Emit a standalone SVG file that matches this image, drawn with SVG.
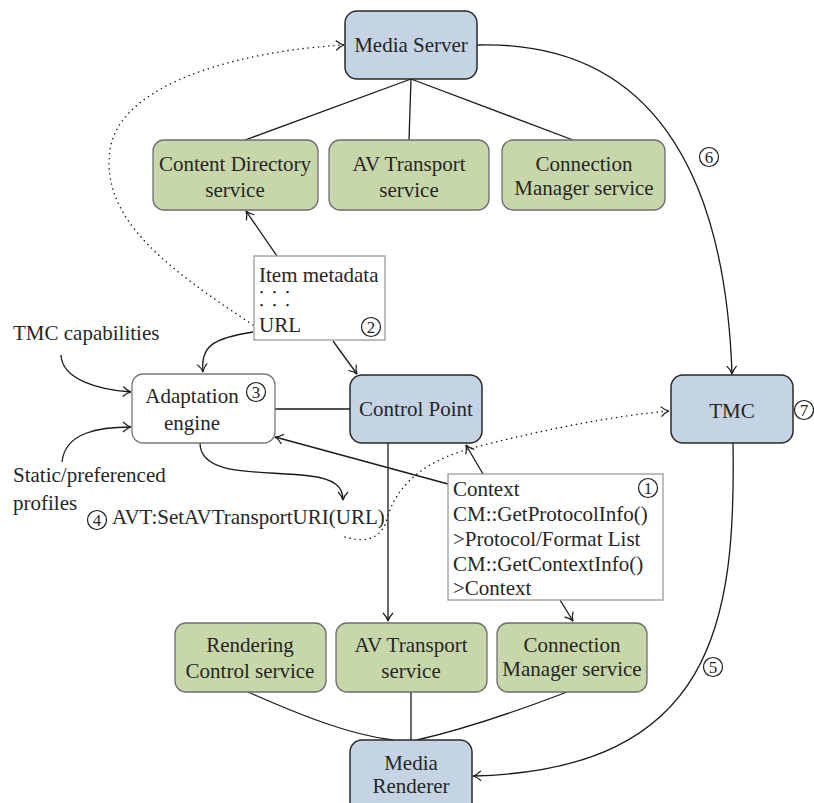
<svg xmlns="http://www.w3.org/2000/svg" width="814" height="803" viewBox="0 0 814 803">
<defs>
<style>
text{font-family:"Liberation Serif","Times New Roman",serif;font-size:21px;fill:#262626}
.c{text-anchor:middle}
.blue{fill:#c5d4e4;stroke:#2a2a2a;stroke-width:1.5}
.green{fill:#c8d7a9;stroke:#6e6e6e;stroke-width:1.3}
.note{fill:#fff;stroke:#9a9a9a;stroke-width:1.3}
.ae{fill:#fff;stroke:#7a7a7a;stroke-width:1.3}
.ln{fill:none;stroke:#1a1a1a;stroke-width:1.3}
.ar{marker-end:url(#arr)}
.dot{fill:none;stroke:#1a1a1a;stroke-width:1.5;stroke-dasharray:0.1 5;stroke-linecap:round}
.num{fill:none;stroke:#1a1a1a;stroke-width:1.2}
.nt{font-size:17px;text-anchor:middle}
.dots{font-size:8.5px;font-weight:bold;fill:#111}
</style>
<marker id="arr" viewBox="0 0 10 12" refX="9" refY="6" markerWidth="10" markerHeight="12" markerUnits="userSpaceOnUse" orient="auto">
<path d="M1,1 Q5,5 9,6 Q5,7 1,11" fill="none" stroke="#1a1a1a" stroke-width="1.2"/>
</marker>
</defs>

<g id="connectors">
<line class="ln" x1="411" y1="79" x2="245" y2="140"/>
<line class="ln" x1="411" y1="79" x2="409" y2="140"/>
<line class="ln" x1="411" y1="79" x2="573" y2="140"/>
<path class="ln ar" d="M477,45 C650,40 725,170 732,374"/>
<path class="ln ar" d="M277,256 L246,211"/>
<path class="ln ar" d="M333,341 L357,374"/>
<path class="ln ar" d="M253,332 C215,338 200,345 203,372"/>
<path class="ln ar" d="M61,355 C62,380 100,390 131,392"/>
<path class="ln ar" d="M62,462 C65,432 100,427 131,427"/>
<path class="ln ar" d="M200,443 C200,478 265,470 310,476 C335,479 343,487 343,500"/>
<line class="ln" x1="275" y1="409" x2="350" y2="409"/>
<path class="ln ar" d="M448,484 L275,437"/>
<path class="ln ar" d="M483,474 L466,445"/>
<path class="ln ar" d="M388,443 L388,621"/>
<path class="ln ar" d="M560,600 L573,621"/>
<path class="ln" d="M248,692 C300,715 350,735 393,740"/>
<line class="ln" x1="411" y1="692" x2="411" y2="740"/>
<path class="ln" d="M567,692 C520,710 460,730 417,740"/>
<path class="ln ar" d="M733,443 C736,620 715,770 473,776"/>
<path class="dot ar" d="M253,325 C170,270 100,220 110,150 C120,80 250,50 344,45"/>
<path class="dot ar" d="M345,537 C365,543 383,540 388,515 C400,480 430,458 480,446 C550,428 620,415 669,411"/>
</g>

<g id="media-server">
<rect class="blue" x="345" y="11" width="132" height="68" rx="12"/>
<text class="c" x="411" y="52">Media Server</text>
</g>
<g id="content-directory">
<rect class="green" x="153" y="140" width="165" height="70" rx="11"/>
<text class="c" x="235" y="171">Content Directory</text>
<text class="c" x="235" y="197">service</text>
</g>
<g id="av-transport-top">
<rect class="green" x="329" y="140" width="160" height="70" rx="11"/>
<text class="c" x="409" y="171">AV Transport</text>
<text class="c" x="409" y="197">service</text>
</g>
<g id="connection-manager-top">
<rect class="green" x="502" y="140" width="163" height="70" rx="11"/>
<text class="c" x="584" y="171">Connection</text>
<text class="c" x="584" y="195">Manager service</text>
</g>

<g id="item-metadata">
<rect class="note" x="254" y="256" width="131" height="84"/>
<text x="259" y="282">Item metadata</text>
<text class="dots" x="260 273 286" y="295">•••</text>
<text class="dots" x="260 273 286" y="308">•••</text>
<text x="259" y="332">URL</text>
<circle class="num" cx="371" cy="327" r="9.5"/>
<text class="nt" x="371" y="333">2</text>
</g>

<g id="tmc-capabilities">
<text x="13" y="340">TMC capabilities</text>
</g>
<g id="static-profiles">
<text x="13" y="482">Static/preferenced</text>
<text x="13" y="510">profiles</text>
</g>

<g id="adaptation-engine">
<rect class="ae" x="132" y="374" width="143" height="69" rx="11"/>
<text class="c" x="192" y="403">Adaptation</text>
<text class="c" x="192" y="430">engine</text>
<circle class="num" cx="256" cy="392" r="9.5"/>
<text class="nt" x="256" y="398">3</text>
</g>

<g id="control-point">
<rect class="blue" x="350" y="375" width="132" height="68" rx="12"/>
<text class="c" x="416" y="416">Control Point</text>
</g>

<g id="tmc">
<rect class="blue" x="671" y="375" width="122" height="68" rx="12"/>
<text class="c" x="732" y="418">TMC</text>
<circle class="num" cx="804" cy="410" r="9.5"/>
<text class="nt" x="804" y="416">7</text>
</g>

<g id="avt-call">
<circle class="num" cx="97" cy="520" r="9.5"/>
<text class="nt" x="97" y="526">4</text>
<text x="112" y="524">AVT:SetAVTransportURI(URL)</text>
</g>

<g id="context-box">
<rect class="note" x="448" y="474" width="215" height="126"/>
<text x="453" y="496">Context</text>
<text x="453" y="521">CM::GetProtocolInfo()</text>
<text x="453" y="546">&gt;Protocol/Format List</text>
<text x="453" y="571">CM::GetContextInfo()</text>
<text x="453" y="595">&gt;Context</text>
<circle class="num" cx="648" cy="488" r="9.5"/>
<text class="nt" x="648" y="494">1</text>
</g>

<g id="label-6">
<circle class="num" cx="709" cy="157" r="9.5"/>
<text class="nt" x="709" y="163">6</text>
</g>
<g id="label-5">
<circle class="num" cx="713" cy="667" r="9.5"/>
<text class="nt" x="713" y="673">5</text>
</g>

<g id="rendering-control">
<rect class="green" x="175" y="623" width="151" height="69" rx="11"/>
<text class="c" x="250" y="652">Rendering</text>
<text class="c" x="250" y="678">Control service</text>
</g>
<g id="av-transport-bottom">
<rect class="green" x="336" y="623" width="151" height="69" rx="11"/>
<text class="c" x="411" y="652">AV Transport</text>
<text class="c" x="411" y="678">service</text>
</g>
<g id="connection-manager-bottom">
<rect class="green" x="497" y="623" width="150" height="69" rx="11"/>
<text class="c" x="572" y="652">Connection</text>
<text class="c" x="572" y="676">Manager service</text>
</g>

<g id="media-renderer">
<rect class="blue" x="350" y="740" width="122" height="80" rx="12"/>
<text class="c" x="411" y="770">Media</text>
<text class="c" x="411" y="793">Renderer</text>
</g>
</svg>
